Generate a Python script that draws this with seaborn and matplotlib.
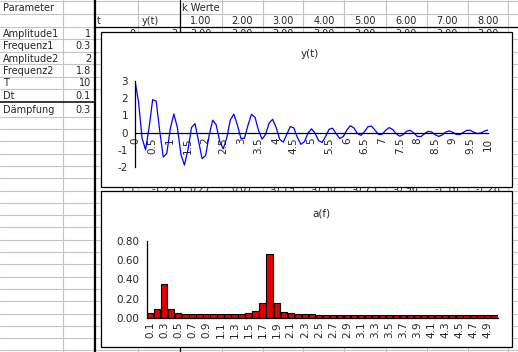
import numpy as np
import pandas as pd
import seaborn as sns
import matplotlib.pyplot as plt
from matplotlib.patches import Rectangle

# Tabelle links: Parameter
param_names = ['Amplitude1', 'Frequenz1', 'Amplitude2', 'Frequenz2', 'T', 'Dt', 'Dämpfung']
param_values = ['1', '0.3', '2', '1.8', '10', '0.1', '0.3']
k_labels = ['1.00', '2.00', '3.00', '4.00', '5.00', '6.00', '7.00', '8.00']

# y(t) (Dt = 0.1, t = 0 .. 10)
dt = 0.1
y_values = [3.00, 1.78, -0.32, -1.00, 0.31, 1.90, 1.82, 0.10, -1.41, -1.21,
            0.23, 1.08, 0.30, -1.25, -1.88, -1.00, 0.29, 0.52, -0.49, -1.50,
            -1.33, -0.17, 0.72, 0.45, -0.51, -0.94, -0.30, 0.73, 1.07, 0.44,
            -0.33, -0.33, 0.42, 1.06, 0.88, 0.12, -0.38, -0.10, 0.55, 0.77,
            0.28, -0.39, -0.55, -0.10, 0.35, 0.27, -0.28, -0.68, -0.52, -0.03,
            0.22, -0.03, -0.46, -0.57, -0.22, 0.20, 0.25, -0.07, -0.34, -0.23,
            0.15, 0.40, 0.27, -0.05, -0.16, 0.05, 0.34, 0.38, 0.14, -0.11,
            -0.10, 0.13, 0.29, 0.18, -0.07, -0.21, -0.11, 0.09, 0.13, -0.03,
            -0.22, -0.23, -0.07, 0.07, 0.04, -0.12, -0.22, -0.14, 0.03, 0.10,
            0.02, -0.10, -0.11, 0.01, 0.13, 0.13, 0.02, -0.06, -0.02, 0.09,
            0.15]

# a(f), f = 0.1 .. 5.0
a_values = [0.05, 0.09, 0.35, 0.09, 0.05, 0.04, 0.04, 0.04, 0.04, 0.04,
            0.04, 0.04, 0.04, 0.04, 0.05, 0.07, 0.15, 0.66, 0.15, 0.06,
            0.05, 0.04, 0.04, 0.04, 0.03, 0.03, 0.03, 0.03, 0.03, 0.03,
            0.03, 0.03, 0.03, 0.03, 0.03, 0.03, 0.03, 0.03, 0.03, 0.03,
            0.03, 0.03, 0.03, 0.03, 0.03, 0.03, 0.03, 0.03, 0.03, 0.03]

# Zeile, die zwischen den beiden Diagrammen durchscheint
mid_row = ['1.3', '-1.25', '0.27', '0.07', '-0.19', '-0.50', '-0.75', '-0.96', '-1.16', '-1.28']

t = np.round(np.arange(len(y_values)) * dt, 1)
f = np.round((np.arange(len(a_values)) + 1) * dt, 1)
df_y = pd.DataFrame({'t': t, 'y': y_values})
df_a = pd.DataFrame({'f': f, 'a': a_values})

sns.set_style('white')
plt.rcParams['font.family'] = ['DejaVu Sans']
plt.rcParams['axes.unicode_minus'] = False

W, H = 518, 352
fig = plt.figure(figsize=(W / 100, H / 100), dpi=100)

# Hintergrund: Tabellenblatt in Pixelkoordinaten
bg = fig.add_axes([0, 0, 1, 1], zorder=0)
bg.set_xlim(0, W)
bg.set_ylim(H, 0)
bg.set_axis_off()

grey = '#c4c4c4'
row_lines = [0.5, 13.5, 27.3, 39.3, 51.7, 64.0, 76.5, 89.0]
y = 116.7
while y < H:
    row_lines.append(y)
    y += 12.3
for r in row_lines:
    bg.plot([0, W], [r, r], color=grey, lw=0.8, zorder=1)
col_grey = [63, 138.3, 221.7, 262.7, 303.3, 344.3, 385.7, 426.7, 467.7, 508.3]
for c in col_grey:
    bg.plot([c, c], [0, H], color=grey, lw=0.8, zorder=1)
bg.plot([95, 95], [0, H], color='black', lw=1.6, zorder=2)
bg.plot([179.5, 179.5], [0, H], color='black', lw=0.9, zorder=2)
bg.plot([95, W], [27.3, 27.3], color='black', lw=0.9, zorder=2)
bg.plot([0, 95], [101.7, 101.7], color='black', lw=1.1, zorder=2)

fs = 7
bg.text(3, 10.7, 'Parameter', fontsize=fs, va='baseline', zorder=3)
bg.text(182, 10.7, 'k Werte', fontsize=fs, va='baseline', zorder=3)
bg.text(97, 24.2, 't', fontsize=fs, va='baseline', zorder=3)
bg.text(142, 24.2, 'y(t)', fontsize=fs, va='baseline', zorder=3)
col_centers = [(a + b) / 2 for a, b in zip([179.5] + col_grey[2:-1], col_grey[2:])]
for cx, lab in zip(col_centers, k_labels):
    bg.text(cx, 24.2, lab, fontsize=fs, va='baseline', ha='center', zorder=3)
baselines = [36.7, 49.2, 61.5, 73.9, 86.5, 98.8, 113.3]
for b, name, val in zip(baselines, param_names, param_values):
    bg.text(3, b, name, fontsize=fs, va='baseline', zorder=3)
    bg.text(91, b, val, fontsize=fs, va='baseline', ha='right', zorder=3)

# erste Datenzeile (vom Diagramm verdeckt)
bg.text(135, 36.7, '0', fontsize=fs, va='baseline', ha='right', zorder=3)
bg.text(177, 36.7, '3', fontsize=fs, va='baseline', ha='right', zorder=3)
for cx in col_centers:
    bg.text(cx, 36.7, '3.00', fontsize=fs, va='baseline', ha='center', zorder=3)
bg.text(135, 192.3, mid_row[0], fontsize=fs, va='baseline', ha='right', zorder=3)
bg.text(177, 192.3, mid_row[1], fontsize=fs, va='baseline', ha='right', zorder=3)
for cx, lab in zip(col_centers, mid_row[2:]):
    bg.text(cx, 192.3, lab, fontsize=fs, va='baseline', ha='center', zorder=3)

# Diagrammrahmen
bg.add_patch(Rectangle((101, 31.5), 411, 155, facecolor='white', edgecolor='black', lw=0.9, zorder=10))
bg.add_patch(Rectangle((101, 190.5), 411, 156.5, facecolor='white', edgecolor='black', lw=0.9, zorder=10))
bg.text(310, 54, 'y(t)', fontsize=7.5, ha='center', va='center', zorder=11)
bg.text(321, 213, 'a(f)', fontsize=7.5, ha='center', va='center', zorder=11)


def frac(x0, y0, x1, y1):
    return [x0 / W, 1 - y1 / H, (x1 - x0) / W, (y1 - y0) / H]


# Diagramm y(t)
ax1 = fig.add_axes(frac(135, 80.7, 488, 167.2), zorder=2)
ax1.patch.set_alpha(0)
sns.lineplot(data=df_y, x='t', y='y', ax=ax1, color='#0000ff', lw=0.9)
ax1.set_xlim(0, 10)
ax1.set_ylim(-2, 3)
ax1.set_xlabel('')
ax1.set_ylabel('')
ax1.spines['top'].set_visible(False)
ax1.spines['right'].set_visible(False)
ax1.spines['bottom'].set_position(('data', 0))
for s in ['left', 'bottom']:
    ax1.spines[s].set_color('black')
    ax1.spines[s].set_linewidth(0.9)
ax1.set_yticks([-2, -1, 0, 1, 2, 3])
ax1.set_yticklabels(['-2', '-1', '0', '1', '2', '3'])
ax1.set_xticks(t[::5])
ax1.set_xticklabels([f'{v:g}' for v in t[::5]], rotation=90)
ax1.tick_params(axis='y', direction='inout', length=5, width=0.9, color='black', pad=2.5, labelsize=7.5)
ax1.tick_params(axis='x', direction='inout', length=4, width=0.9, color='black', pad=1.5, labelsize=7.5)

# Diagramm a(f)
ax2 = fig.add_axes(frac(146.7, 241, 498, 317.7), zorder=2)
ax2.patch.set_alpha(0)
sns.barplot(data=df_a, x='f', y='a', ax=ax2, color='#e00000', saturation=1,
            edgecolor='black', linewidth=0.8, width=0.9)
ax2.set_xlim(-0.5, len(a_values) - 0.5)
ax2.set_ylim(0, 0.8)
ax2.set_xlabel('')
ax2.set_ylabel('')
ax2.spines['top'].set_visible(False)
ax2.spines['right'].set_visible(False)
for s in ['left', 'bottom']:
    ax2.spines[s].set_color('black')
    ax2.spines[s].set_linewidth(0.9)
ax2.set_yticks([0, 0.2, 0.4, 0.6, 0.8])
ax2.set_yticklabels([f'{v:.2f}' for v in [0, 0.2, 0.4, 0.6, 0.8]])
pos = np.arange(0, len(a_values), 2)
ax2.set_xticks(pos)
ax2.set_xticklabels([f'{v:g}' for v in f[::2]], rotation=90)
ax2.set_xticks(pos - 0.5, minor=True)
ax2.tick_params(axis='y', direction='out', length=4.5, width=0.9, color='black', pad=0.8, labelsize=7.5)
ax2.tick_params(axis='x', which='major', length=0, pad=3, labelsize=7.5)
ax2.tick_params(axis='x', which='minor', direction='out', length=3, width=0.9, color='black')

fig.savefig('out.png', dpi=100)
